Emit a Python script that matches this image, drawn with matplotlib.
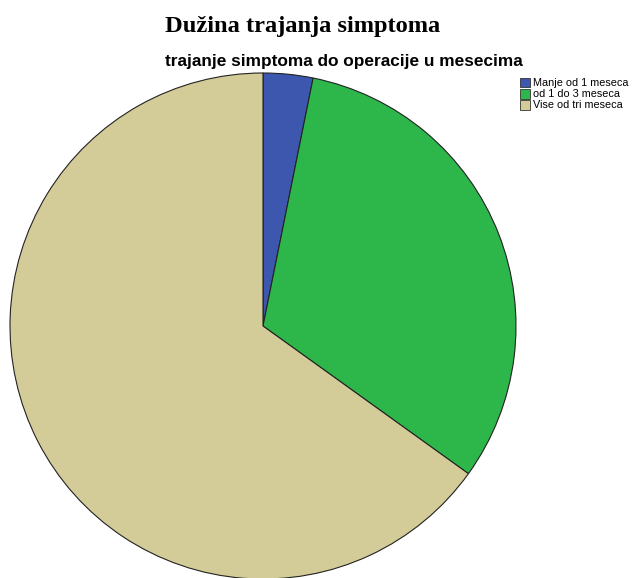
import matplotlib
matplotlib.use("Agg")
import matplotlib.pyplot as plt
from matplotlib.patches import Rectangle

categories = ["Manje od 1 meseca", "od 1 do 3 meseca", "Vise od tri meseca"]
counts = [2, 20, 41]
colors = ["#3D56AE", "#2DB74B", "#D4CC98"]
title = "Dužina trajanja simptoma"
subtitle = "trajanje simptoma do operacije u mesecima"

W, H, DPI = 636, 578, 100
fig = plt.figure(figsize=(W / DPI, H / DPI), dpi=DPI)
renderer = fig.canvas.get_renderer()


def px(x, y):
    """Pixel position (from top-left) to figure fraction."""
    return x / W, 1 - y / H


def fit_text(x0, x1, y, s, size, va="baseline", **kw):
    """Place left-aligned text and scale its size so it spans x0..x1 pixels."""
    t = fig.text(*px(x0, y), s, ha="left", va=va, fontsize=size, **kw)
    w = t.get_window_extent(renderer).width
    t.set_fontsize(size * (x1 - x0) / w)
    return t


# pie placed by pixel centre and radius
cx, cy, r = 263, 326, 253
ax = fig.add_axes([(cx - r) / W, (H - cy - r) / H, 2 * r / W, 2 * r / H])
wedges, _ = ax.pie(counts, colors=colors, startangle=90, counterclock=False,
                   radius=1.0, wedgeprops=dict(edgecolor="#222222", linewidth=0.8))
ax.set_xlim(-1, 1)
ax.set_ylim(-1, 1)
ax.set_aspect("auto")
ax.axis("off")

fit_text(165, 441, 32, title, 17, family="Liberation Serif", fontweight="bold")
fit_text(165, 521, 66, subtitle, 12, family="Liberation Sans", fontweight="bold")

# legend: swatch + label per category
row_y = [83, 94, 105]
for label, col, yy in zip(categories, colors, row_y):
    fig.patches.append(Rectangle(px(520, yy + 4.5), 10 / W, 9 / H, transform=fig.transFigure,
                                 facecolor=col, edgecolor="#333333", linewidth=0.6))
fit_text(533, 628, row_y[0], categories[0], 7.5, va="center", family="Liberation Sans")
leg_size = fig.texts[-1].get_fontsize()
for label, yy in zip(categories[1:], row_y[1:]):
    fig.text(*px(533, yy), label, ha="left", va="center", family="Liberation Sans",
             fontsize=leg_size)

fig.savefig("out.png", dpi=DPI)
